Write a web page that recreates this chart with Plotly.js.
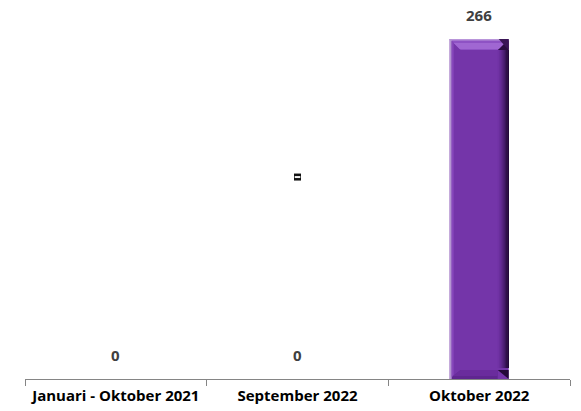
<!DOCTYPE html>
<html>
<head>
<meta charset="utf-8">
<script src="https://cdn.plot.ly/plotly-3.0.1.min.js"></script>
<style>
  html, body { margin: 0; padding: 0; background: #ffffff; }
  #chart { width: 581px; height: 411px; }
</style>
</head>
<body>
<div id="chart"></div>
<script>
// Period labels and counts
const categories = ["Januari - Oktober 2021", "September 2022", "Oktober 2022"];
const counts = [0, 0, 266];

// Small stray marker sitting over the middle period
const markerCategory = ["September 2022"];
const markerValue = [158];

const W = 581, H = 411;
const margin = { l: 25, r: 11, t: 39, b: 32 };
const plotW = W - margin.l - margin.r;
const plotH = H - margin.t - margin.b;
const yMax = 266;
const barWidth = 0.325;          // fraction of a category slot
const slotPx = plotW / categories.length;
const halfPx = barWidth * slotPx / 2;

const font = "'Open Sans', Lato, 'Liberation Sans', sans-serif";

const bars = {
  type: "bar",
  x: categories,
  y: counts,
  width: barWidth,
  marker: { color: "#7435a9", line: { width: 0 } },
  hoverinfo: "x+y",
  cliponaxis: false
};

const markerOuter = {
  type: "scatter", mode: "markers",
  x: markerCategory, y: markerValue,
  marker: { symbol: "square", size: 7, color: "#111111" },
  hoverinfo: "skip"
};
const markerInner = {
  type: "scatter", mode: "markers",
  x: markerCategory, y: markerValue,
  marker: { symbol: "line-ew", size: 4, line: { width: 2, color: "#f2f2f2" } },
  hoverinfo: "skip"
};

// Value labels above each bar
const annotations = categories.map((c, i) => ({
  x: c, y: counts[i], xref: "x", yref: "y",
  text: "<b>" + counts[i] + "</b>",
  showarrow: false, yanchor: "bottom", yshift: 12,
  font: { family: font, size: 15, color: "#404040" }
}));

// Bevelled look for the bars: pixel-sized overlays anchored at each bar
const shapes = [];
function px(anchorIdx, anchorY, path, color) {
  shapes.push({
    type: "path", xref: "x", yref: "y",
    xsizemode: "pixel", ysizemode: "pixel",
    xanchor: anchorIdx, yanchor: anchorY,
    path: path, fillcolor: color, line: { width: 0 }, layer: "above"
  });
}
counts.forEach((v, i) => {
  if (v <= 0) return;
  const h = v / yMax * plotH;
  const w = halfPx;
  const d = 11;
  // right side shading, dark toward the edge
  const rightCols = ["#7032a4", "#6a2e9c", "#622a90", "#572481", "#4a1d70", "#3c165d", "#2f1049", "#230a38"];
  const step = d / rightCols.length;
  rightCols.forEach((col, k) => {
    const x0 = w - d + k * step, x1 = x0 + step + 0.3;
    px(i, v, `M${x0},${-d} L${x1},${-d} L${x1},${-h + d} L${x0},${-h + d} Z`, col);
  });
  // right bevel corner wedges
  px(i, v, `M${w - d},${-d} L${w},0 L${w},${-d} Z`, "#2a0d40");
  px(i, 0, `M${w - d},${d - 2} L${w},0 L${w},${d - 2} Z`, "#240a38");
  // top bevel
  px(i, v, `M${-w},0 L${w},0 L${w - d},${-d} L${-w + d},${-d} Z`, "#8e52c4");
  px(i, v, `M${-w + 4},${-4} L${w - 4},${-4} L${w - d + 1},${-d + 1} L${-w + d - 1},${-d + 1} Z`, "#a067d2");
  px(i, v, `M${-w},0 L${w},0 L${w},-1.5 L${-w},-1.5 Z`, "#b995da");
  px(i, v, `M${w - 10},0 L${w},0 L${w},${-d} Z`, "#3a1556");
  // bottom bevel
  px(i, 0, `M${-w},0 L${w - d},0 L${w - d},${d - 2} L${-w + d},${d - 2} Z`, "#5f2690");
  px(i, 0, `M${-w + 3},${3} L${w - d},${3} L${w - d},${d - 2} L${-w + d},${d - 2} Z`, "#6a2c9d");
  // left highlight edge
  px(i, v, `M${-w},0 L${-w + 2},0 L${-w + 2},${-h} L${-w},${-h} Z`, "#b596d2");
  px(i, v, `M${-w + 2},${-2} L${-w + 4},${-4} L${-w + 4},${-h + 4} L${-w + 2},${-h + 2} Z`, "#8748bb");
});

const layout = {
  width: W, height: H,
  margin: margin,
  paper_bgcolor: "#ffffff",
  plot_bgcolor: "#ffffff",
  showlegend: false,
  font: { family: font },
  xaxis: {
    type: "category",
    showgrid: false, zeroline: false,
    showline: true, linecolor: "#858585", linewidth: 1,
    ticks: "outside", tickson: "boundaries", ticklen: 6, tickcolor: "#858585", tickwidth: 1,
    tickangle: 0,
    ticklabelstandoff: 3,
    tickfont: { family: font, size: 15, color: "#000000", weight: "bold" },
    range: [-0.5, 2.5], fixedrange: true
  },
  yaxis: {
    range: [0, yMax],
    visible: false, showgrid: false, zeroline: false, fixedrange: true
  },
  annotations: annotations,
  shapes: shapes
};

Plotly.newPlot("chart", [bars, markerOuter, markerInner], layout, { displayModeBar: false, staticPlot: true });
</script>
</body>
</html>
